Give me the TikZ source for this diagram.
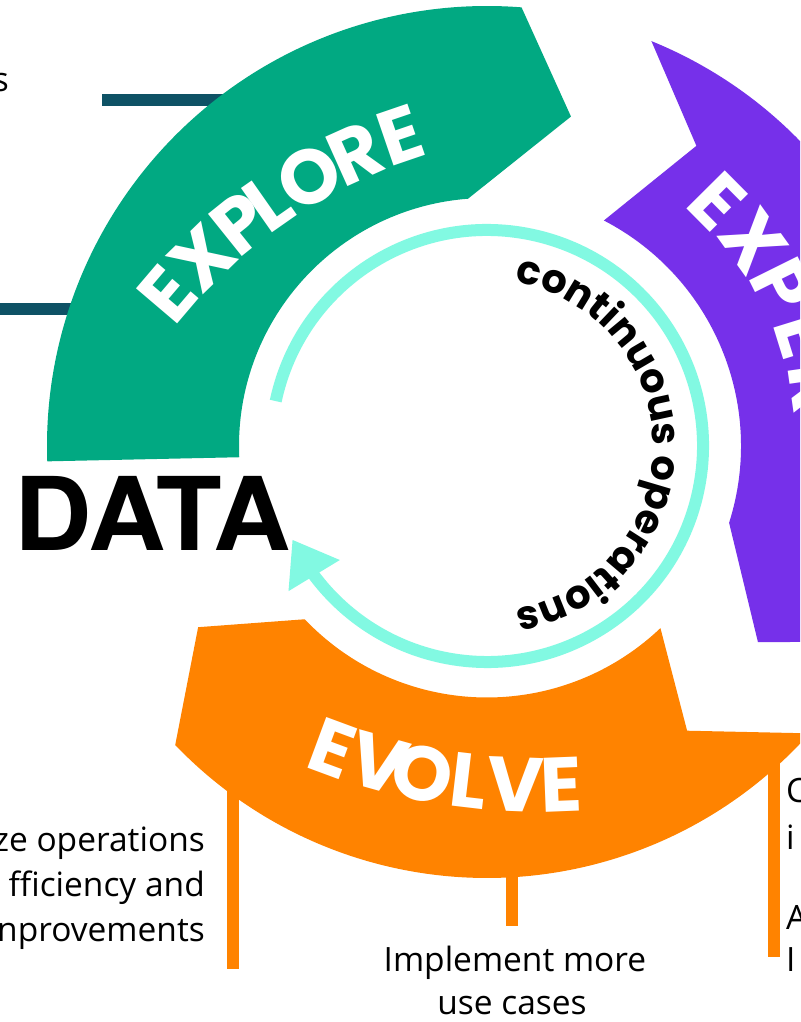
\documentclass[tikz,border=0pt]{standalone}
\usepackage{fontspec}
\setmainfont{Open Sans}
\newfontfamily\pop{Poppins}
\newfontfamily\heros{TeX Gyre Heros}
\usetikzlibrary{arrows.meta,bending,decorations.text}
\definecolor{hpegreen}{HTML}{01A982}
\definecolor{hpepurple}{HTML}{7630EA}
\definecolor{hpeorange}{HTML}{FF8300}
\definecolor{mint}{HTML}{82F9E2}
\definecolor{darkteal}{HTML}{0E5265}
\begin{document}
\begin{tikzpicture}[x=1pt,y=1pt,
  bar/.style={line width=12pt},
  body/.style={font=\fontsize{33.5}{40}\selectfont, inner sep=0pt, text=black},
  bigletter/.style={font=\pop\bfseries\fontsize{77}{77}\selectfont, text=white, inner sep=0pt, anchor=center}]
\useasboundingbox (0,0) rectangle (800,1022);
\clip (0,0) rectangle (800,1022);
\fill[white] (0,0) rectangle (800,1022);

% leader bars (under the bands)
\coordinate (tb1a) at (102,922); \coordinate (tb1b) at (300,922);
\coordinate (tb2a) at (-5,712.5); \coordinate (tb2b) at (130,712.5);
\draw[bar, darkteal] (tb1a) -- (tb1b);
\draw[bar, darkteal] (tb2a) -- (tb2b);
\coordinate (lg1a) at (232.5,53); \coordinate (lg1b) at (232.5,262);
\coordinate (lg2a) at (512,96); \coordinate (lg2b) at (512,175);
\coordinate (lg3a) at (774,65); \coordinate (lg3b) at (774,285);
\draw[bar, hpeorange] (lg1a) -- (lg1b);
\draw[bar, hpeorange] (lg2a) -- (lg2b);
\draw[bar, hpeorange] (lg3a) -- (lg3b);

\begin{scope}[shift={(487,576)}]
% EXPLORE band
\fill[hpegreen] (182.0:440) arc[start angle=182.0, end angle=85.5, radius=440]
  -- (75.7:340) -- (94.4:248) arc[start angle=94.4, end angle=182.6, radius=248] -- cycle;
% EXPERIMENT band
\fill[hpepurple] (67.9:437) arc[start angle=67.9, end angle=-26.6, radius=437]
  -- (-35.9:334.5) -- (-17.6:254) arc[start angle=-17.6, end angle=62.6, radius=254]
  -- (55.1:366) -- cycle;
% EVOLVE band
\fill[hpeorange] (-41.7:432) arc[start angle=-41.7, end angle=-136.2, radius=432]
  -- (-147.9:341) -- (-136.45:251.5) arc[start angle=-136.45, end angle=-46.4, radius=251.5]
  -- (-54.9:348) -- cycle;
% continuous ring
\draw[mint, line width=12pt, -{Triangle[width=57pt,length=42pt]}]
  (168:216) arc[start angle=168, end angle=-154.3, radius=216];
\path[decorate, decoration={text along path, text align=center,
  text={|\pop\bfseries\fontsize{40}{40}\selectfont|continuous operations}}]
  (100:166) arc[start angle=100, end angle=-100, radius=166];
% EXPER letters
\foreach \l/\a [count=\i] in {E/46.8, X/37.6, P/28.4, E/19.2, R/10.0}
  \node[bigletter, rotate=\a-92] (exper\i) at (\a:336) {\l};
\end{scope}

\begin{scope}[shift={(573,383)}]
\foreach \l/\a [count=\i] in {E/139.6, X/134.2, P/128.7, L/125.0, O/119.7, R/114.2, E/108.9}
  \node[bigletter, rotate=\a-90] (explore\i) at (\a:532) {\l};
\end{scope}

\begin{scope}[shift={(538,830)}]
\foreach \l/\a [count=\i] in {E/-110.3, V/-105.6, O/-101.2, L/-96.7, V/-92.2, E/-87.75}
  \node[bigletter, rotate=\a+90] (evolve\i) at (\a:593) {\l};
\end{scope}

\node[font=\heros\bfseries\fontsize{101.7}{102}\selectfont, anchor=base west, inner sep=0pt, xscale=1.055] (data) at (14,471) {DATA};

\node[body, anchor=base east] (topS) at (9,930) {s};
\node[body, anchor=base east] (left1) at (205,170) {ze operations};
\node[body, anchor=base east] (left2) at (205,125) {fficiency and};
\node[body, anchor=base east] (left3) at (205,80) {nprovements};
\node[body, anchor=base] (mid1) at (515,50) {Implement more};
\node[body, anchor=base] (mid2) at (512,7) {use cases};
\node[body, anchor=base west] (right1) at (786,219) {C};
\node[body, anchor=base west] (right2) at (786,172) {i};
\node[body, anchor=base west] (right3) at (786,92) {A};
\node[body, anchor=base west] (right4) at (786,50) {I};
\end{tikzpicture}
\end{document}
